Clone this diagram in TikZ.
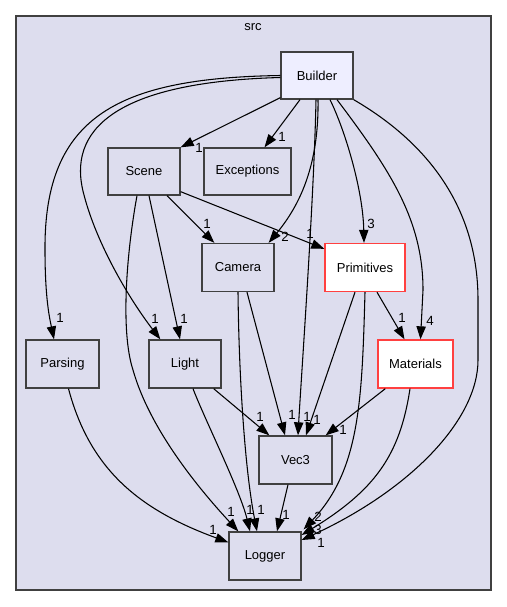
\documentclass[tikz,border=0pt]{standalone}
\usepackage{fontspec}
\setmainfont{Liberation Sans}
\usetikzlibrary{arrows.meta}
\definecolor{clfill}{HTML}{DDDDEE}
\definecolor{clbord}{HTML}{404040}
\definecolor{bfill}{HTML}{EEEEFF}
\definecolor{redb}{HTML}{FF4040}
\tikzset{
  dirbox/.style={draw=clbord, line width=1pt, fill=clfill, inner sep=0pt, font=\fontsize{9.75pt}{11pt}\selectfont, text=black},
  redbox/.style={dirbox, draw=redb, fill=white},
  edge/.style={draw=black, line width=0.8pt, -{Triangle[length=9.75pt,width=7pt]}},
  elab/.style={font=\fontsize{10pt}{11pt}\selectfont, inner sep=0pt, text=black}
}
\begin{document}
\begin{tikzpicture}[x=0.75pt,y=-0.75pt]
\useasboundingbox (0,0) rectangle (507,607);
\fill[white] (0,0) rectangle (507,607);
\draw[draw=clbord, line width=0.9pt, fill=clfill] (16,16) rectangle (491,590);
\node[elab, font=\fontsize{9.75pt}{11pt}\selectfont] (srclbl) at (253,27) {src};

\node[dirbox, fill=bfill, minimum width=54pt, minimum height=35.25pt] (builder) at (317,75.5) {Builder};
\node[dirbox, minimum width=54pt, minimum height=35.25pt] (scene) at (144,171.5) {Scene};
\node[dirbox, minimum width=65.25pt, minimum height=35.25pt] (exceptions) at (247.5,171.5) {Exceptions};
\node[dirbox, minimum width=54pt, minimum height=36pt] (camera) at (238,267.5) {Camera};
\node[redbox, minimum width=60pt, minimum height=36pt] (primitives) at (365,267.5) {Primitives};
\node[dirbox, minimum width=54.75pt, minimum height=36pt] (parsing) at (62.5,364) {Parsing};
\node[dirbox, minimum width=54pt, minimum height=36pt] (light) at (185,364) {Light};
\node[redbox, minimum width=56.25pt, minimum height=36pt] (materials) at (415.5,364) {Materials};
\node[dirbox, minimum width=54.75pt, minimum height=36pt] (vec3) at (295.5,460) {Vec3};
\node[dirbox, minimum width=54pt, minimum height=36pt] (logger) at (265,556) {Logger};

% Builder edges
\draw[edge] ([shift={(0,-2)}]builder.south west) -- (scene.north east);
\node[elab] (l1) at (199,148) {1};
\draw[edge] ([shift={(-17,0)}]builder.south) -- ([shift={(17,0)}]exceptions.north);
\node[elab] (l2) at (282,137) {1};
\draw[edge] ([shift={(1,0)}]builder.south) .. controls (319,165) and (300,205) .. ([shift={(-6,0)}]camera.north east);
\node[elab] (l3) at (285,237) {2};
\draw[edge] ([shift={(13,0)}]builder.south) .. controls (345,130) and (363,190) .. ([shift={(-1,0)}]primitives.north);
\node[elab] (l4) at (371,224) {3};
\draw[edge] ([shift={(20,0)}]builder.south) .. controls (390,170) and (423,220) .. (423,290) -- ([shift={(5,0)}]materials.north);
\node[elab] (l5) at (430,321) {4};
\draw[edge] (builder.south east) .. controls (440,150) and (478,220) .. (478,300) -- (478,360) .. controls (478,420) and (410,490) .. ([shift={(0,-16)}]logger.east);
\node[elab] (l6) at (321,543) {1};
\draw[edge] ([shift={(-1,0)}]builder.south) .. controls (314,200) and (301,380) .. ([shift={(2.5,0)}]vec3.north);
\node[elab] (l7) at (307,417) {1};
\draw[edge] (builder.west) .. controls (120,78) and (44,115) .. (45,250) .. controls (45,300) and (50,320) .. ([shift={(-8.5,0)}]parsing.north);
\node[elab] (l8) at (60,318) {1};
\draw[edge] ([shift={(0,2)}]builder.west) .. controls (115,82) and (66,130) .. (84,195) .. controls (97,245) and (130,300) .. ([shift={(12,0)}]light.north west);
\node[elab] (l9) at (155,319) {1};

% Scene edges
\draw[edge] ([shift={(23,0)}]scene.south) -- ([shift={(13,0)}]camera.north west);
\node[elab] (l10) at (207,224) {1};
\draw[edge] ([shift={(0,-4)}]scene.south east) -- ([shift={(0,6)}]primitives.north west);
\node[elab] (l11) at (310,234) {1};
\draw[edge] ([shift={(5,0)}]scene.south) -- ([shift={(-5,0)}]light.north);
\node[elab] (l12) at (184,319) {1};
\draw[edge] ([shift={(-7,0)}]scene.south) .. controls (127,250) and (120,330) .. (133,370) .. controls (150,430) and (200,490) .. ([shift={(10,0)}]logger.north west);
\node[elab] (l13) at (231,512) {1};

% Camera edges
\draw[edge] ([shift={(9,0)}]camera.south) -- ([shift={(-10.5,0)}]vec3.north);
\node[elab] (l14) at (292,415) {1};
\draw[edge] (camera.south) .. controls (239,380) and (245,470) .. ([shift={(-8,0)}]logger.north);
\node[elab] (l15) at (261,510) {1};

% Primitives edges
\draw[edge] ([shift={(-10,0)}]primitives.south) -- ([shift={(10.5,0)}]vec3.north);
\node[elab] (l16) at (317,420) {1};
\draw[edge] ([shift={(12,0)}]primitives.south) -- ([shift={(-11,0)}]materials.north);
\node[elab] (l17) at (402,318) {1};
\draw[edge] (primitives.south) .. controls (362,400) and (360,470) .. ([shift={(2,-2)}]logger.north east);
\node[elab] (l18) at (318,517) {2};

% Materials edges
\draw[edge] ([shift={(8,0)}]materials.south west) -- ([shift={(-7,0)}]vec3.north east);
\node[elab] (l19) at (343,430) {1};
\draw[edge] ([shift={(-5.5,0)}]materials.south) .. controls (400,455) and (375,490) .. ([shift={(0,-21)}]logger.east);
\node[elab] (l20) at (318,530) {3};

% Light edges
\draw[edge] ([shift={(-8,0)}]light.south east) -- ([shift={(11,0)}]vec3.north west);
\node[elab] (l21) at (260,417) {1};
\draw[edge] ([shift={(8,0)}]light.south) .. controls (205,420) and (240,490) .. ([shift={(-15,0)}]logger.north);
\node[elab] (l22) at (250,510) {1};

% Parsing edge
\draw[edge] ([shift={(6,0)}]parsing.south) .. controls (90,470) and (140,510) .. ([shift={(0,11)}]logger.north west);
\node[elab] (l23) at (213,530) {1};

% Vec3 edge
\draw[edge] ([shift={(-7.5,0)}]vec3.south) -- ([shift={(12,0)}]logger.north);
\node[elab] (l24) at (286,515) {1};
\end{tikzpicture}
\end{document}
